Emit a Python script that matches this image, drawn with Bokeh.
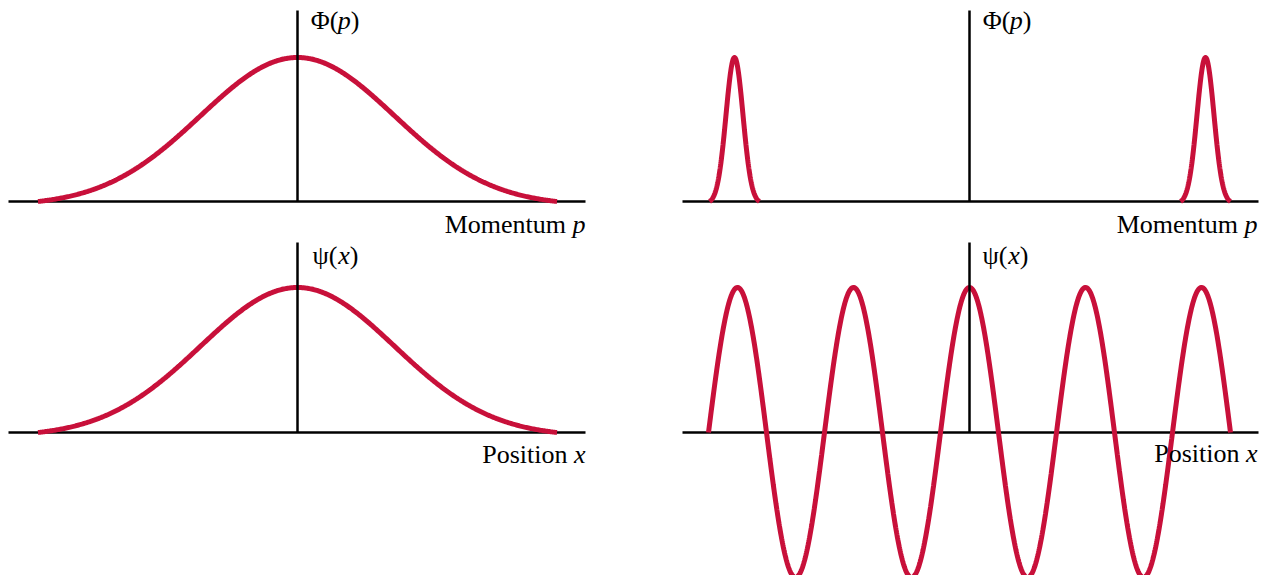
import numpy as np
from bokeh.plotting import figure
from bokeh.layouts import column, row
from bokeh.models import Range1d
from bokeh.core.properties import value
from bokeh.embed import file_html
from bokeh.resources import INLINE

# ---- data (parameters; x unit = 1, peak height = 1) ----
wide_sigma = 0.97          # width of the broad packet (left panels)
wide_extent = 2.595        # half extent of the drawn broad packet
narrow_centers = [-2.35, 2.36]   # the two momentum spikes (top right)
narrow_sigma = 0.085
narrow_extent = 0.25
wave_period = 1.16         # plane-wave period (bottom right)
wave_extent = 2.61
peak = 1.0
axis_left = [-2.89, 2.88]
axis_right = [-2.87, 2.89]
top_ylabel = ["Φ(", "p", ")"]
bottom_ylabel = ["ψ(", "x", ")"]
top_xlabel = ["Momentum", "p"]
bottom_xlabel = ["Position", "x"]

RED = "#c8103a"
FONT = "Liberation Serif"
FSN = 26.0
FS = "26px"
XS = 100.0  # pixels per x unit
TEXT_SHIFT = 8.5  # renderer draws alphabetic baseline this much lower


def panel(box, origin, sy):
    x0, x1, y0, y1 = box
    ox, oy = origin
    p = figure(width=x1 - x0, height=y1 - y0,
               x_range=Range1d((x0 - ox) / XS, (x1 - ox) / XS),
               y_range=Range1d((oy - y1) / sy, (oy - y0) / sy),
               output_backend="svg", toolbar_location=None,
               x_axis_location=None, y_axis_location=None,
               min_border=0, min_border_left=0, min_border_right=0,
               min_border_top=0, min_border_bottom=0,
               outline_line_color=None, background_fill_color="white",
               border_fill_color="white")
    p.grid.visible = False
    p._ox, p._oy, p._sy = ox, oy, sy
    return p


def to_data(p, px, py):
    return (px - p._ox) / XS, (p._oy - py) / p._sy


def txt(p, px, py, s, align, italic=False):
    x, y = to_data(p, px, py - TEXT_SHIFT)
    p.text(x=[x], y=[y], text=[s], text_align=align, text_baseline="alphabetic",
           text_font=value(FONT), text_font_size=FS,
           text_font_style="italic" if italic else "normal", text_color="black")


def ylabel(p, right_px, py, parts):
    txt(p, right_px, py, parts[2], "right")
    r2 = right_px - 0.333 * FSN
    txt(p, r2, py, parts[1], "right", italic=True)
    r1 = r2 - 0.48 * FSN
    txt(p, r1, py, parts[0], "right")


def xlabel(p, right_px, py, parts, var_w):
    txt(p, right_px, py, parts[1], "right", italic=True)
    txt(p, right_px - var_w * FSN - 0.25 * FSN, py, parts[0], "right")


def hline(p, xs):
    p.line(x=xs, y=[0, 0], line_color="black", line_width=2.5)


def vline(p, top):
    p.line(x=[0, 0], y=[0, top], line_color="black", line_width=2.5)


def broad():
    x = np.linspace(-wide_extent, wide_extent, 500)
    e0 = np.exp(-wide_extent ** 2 / (2 * wide_sigma ** 2))
    y = peak * (np.exp(-x ** 2 / (2 * wide_sigma ** 2)) - e0) / (1 - e0)
    return x, y


TOP = (0, 242)
BOT = (242, 575)

# ---- top left: broad momentum distribution ----
p1 = panel((0, 640) + TOP, (297, 201), 144.0)
hline(p1, axis_left)
bx, by = broad()
p1.line(bx, by, line_color=RED, line_width=5)
vline(p1, 1.326)
ylabel(p1, 359, 28, top_ylabel)
xlabel(p1, 585, 232, top_xlabel, 0.5)

# ---- top right: two sharp momentum spikes ----
p2 = panel((640, 1260) + TOP, (969, 201), 144.0)
hline(p2, axis_right)
for c in narrow_centers:
    x = np.linspace(-narrow_extent, narrow_extent, 200)
    e0 = np.exp(-narrow_extent ** 2 / (2 * narrow_sigma ** 2))
    y = peak * (np.exp(-x ** 2 / (2 * narrow_sigma ** 2)) - e0) / (1 - e0)
    p2.line(c + x, y, line_color=RED, line_width=5)
vline(p2, 1.326)
ylabel(p2, 1031, 28, top_ylabel)
xlabel(p2, 1257, 232, top_xlabel, 0.5)

# ---- bottom left: broad wave packet in position ----
p3 = panel((0, 640) + BOT, (297, 432), 145.0)
hline(p3, axis_left)
p3.line(bx, by, line_color=RED, line_width=5)
vline(p3, 1.32)
ylabel(p3, 358, 263, bottom_ylabel)
xlabel(p3, 585, 462, bottom_xlabel, 0.444)

# ---- bottom right: plane wave ----
p4 = panel((640, 1260) + BOT, (969, 432), 145.0)
hline(p4, axis_right)
wx = np.linspace(-wave_extent, wave_extent, 1200)
wy = peak * np.cos(2 * np.pi * wx / wave_period)
p4.line(wx, wy, line_color=RED, line_width=5)
vline(p4, 1.32)
ylabel(p4, 1028, 263, bottom_ylabel)
xlabel(p4, 1257, 461, bottom_xlabel, 0.444)

layout = column(row(p1, p2, spacing=0), row(p3, p4, spacing=0), spacing=0)
open("out.html", "w").write(file_html(layout, INLINE))
